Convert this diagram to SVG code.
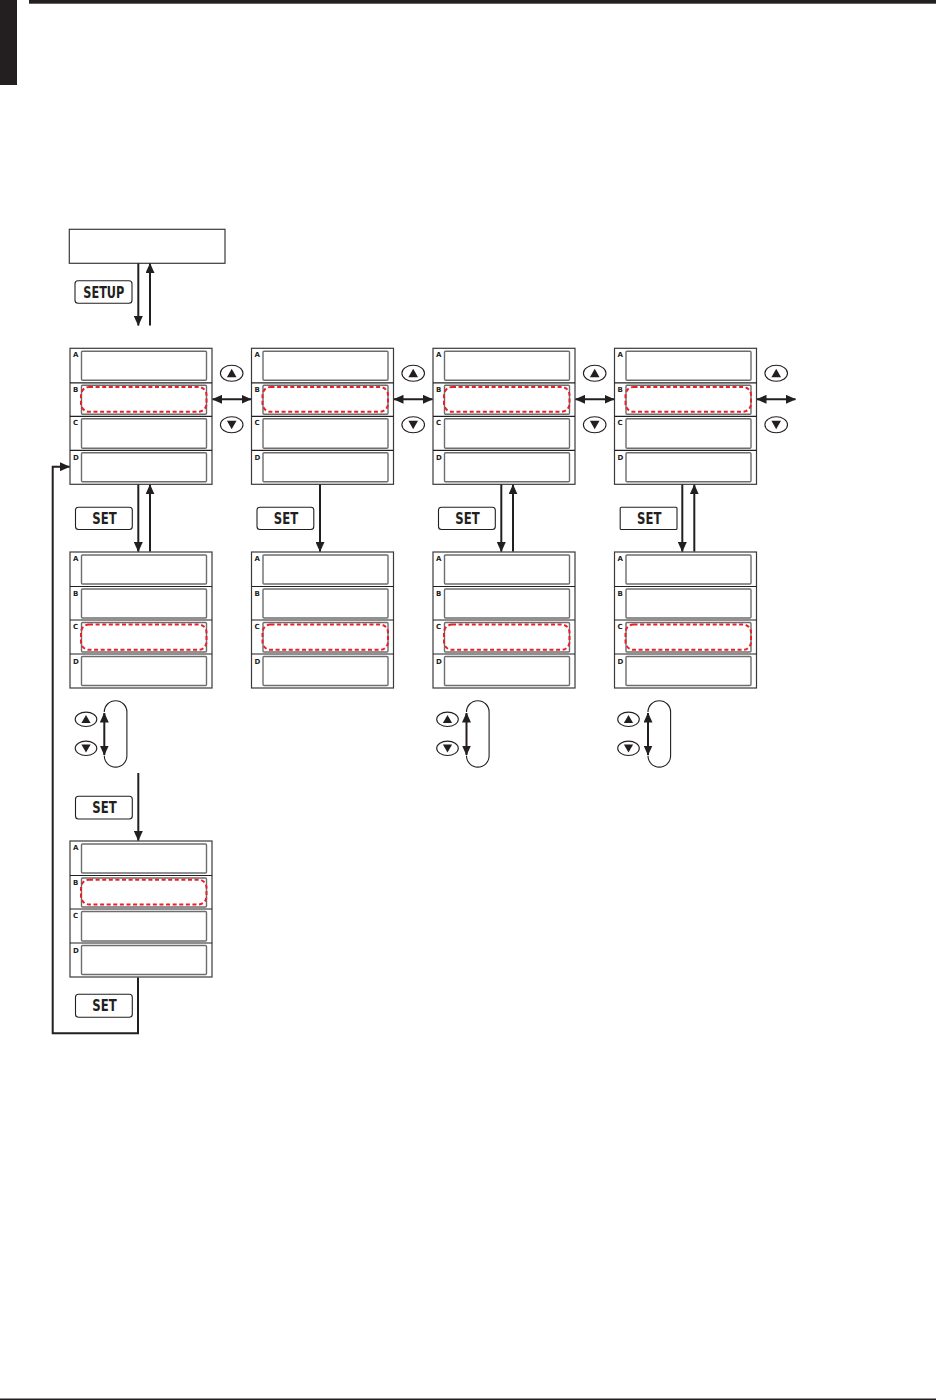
<svg xmlns="http://www.w3.org/2000/svg" xmlns:xlink="http://www.w3.org/1999/xlink" width="936" height="1400" viewBox="0 0 936 1400">
<style>
.frame{fill:#fff;stroke:#3a3a3a;stroke-width:1.2}
.div{stroke:#231f20;stroke-width:1.2}
.inner{fill:#fff;stroke:#6d6d6d;stroke-width:1.4}
.lbl{font-family:"DejaVu Sans",sans-serif;font-weight:bold;font-size:7px;fill:#231f20}
.hl{fill:none;stroke:#e8202a;stroke-width:2;stroke-dasharray:4 2.6}
.ln{fill:none;stroke:#231f20;stroke-width:2}
.loop{fill:none;stroke:#231f20;stroke-width:1.1}
.btn{fill:#fff;stroke:#231f20;stroke-width:1.1}
.btxt{font-family:"DejaVu Sans Condensed","DejaVu Sans",sans-serif;font-weight:bold;font-size:15px;fill:#231f20}
.oval{fill:#fff;stroke:#231f20;stroke-width:1.1}
.tri{fill:#231f20}
</style>
<defs>
<marker id="ah" viewBox="0 0 10 9" refX="9.5" refY="4.5" markerWidth="10" markerHeight="9" markerUnits="userSpaceOnUse" orient="auto-start-reverse">
<path d="M0,0 L10,4.5 L0,9 z" fill="#231f20"/>
</marker>
<g id="panel">
<rect class="frame" x="0" y="0" width="142" height="136"/>
<line class="div" x1="0" y1="34.5" x2="142" y2="34.5"/>
<line class="div" x1="0" y1="68" x2="142" y2="68"/>
<line class="div" x1="0" y1="102" x2="142" y2="102"/>
<rect class="inner" x="11.5" y="3" width="125" height="29" rx="1"/>
<rect class="inner" x="11.5" y="37" width="125" height="29" rx="1"/>
<rect class="inner" x="11.5" y="70.5" width="125" height="29.5" rx="1"/>
<rect class="inner" x="11.5" y="104.5" width="125" height="29" rx="1"/>
<text class="lbl" x="3" y="8.8">A</text>
<text class="lbl" x="3" y="43.5">B</text>
<text class="lbl" x="3" y="77">C</text>
<text class="lbl" x="3" y="111.5">D</text>
</g>
<g id="updown">
<ellipse class="oval" cx="0" cy="0" rx="11.3" ry="8"/>
<path class="tri" d="M-4.8,4 L4.8,4 L0,-4.5 z"/>
<ellipse class="oval" cx="0" cy="51.5" rx="11.3" ry="8"/>
<path class="tri" d="M-4.8,47.5 L4.8,47.5 L0,56 z"/>
</g>
<g id="updown2">
<ellipse class="oval" cx="0" cy="0" rx="10.8" ry="7.2"/>
<path class="tri" d="M-4.6,3.8 L4.6,3.8 L0,-4.2 z"/>
<ellipse class="oval" cx="0" cy="29" rx="10.8" ry="7.2"/>
<path class="tri" d="M-4.6,25.2 L4.6,25.2 L0,33.2 z"/>
</g>
<g id="loop">
<path class="loop" d="M0,12 A11.3,11.3 0 0 1 22.6,12 L22.6,55.8 A11.3,11.3 0 0 1 0,55.8"/>
<line class="ln" x1="0" y1="13" x2="0" y2="55" marker-start="url(#ah)" marker-end="url(#ah)"/>
</g>
</defs>

<g id="page-marks">
<rect x="29" y="0" width="907" height="3.7" fill="#231f20"/>
<rect x="0" y="0" width="17" height="85" fill="#231f20"/>
<rect x="0" y="1398.5" width="936" height="1.5" fill="#231f20"/>
</g>

<g id="top-box">
<rect class="frame" x="69.3" y="229.3" width="155.7" height="34"/>
</g>

<g id="btn-setup">
<rect class="btn" x="75" y="280.7" width="57" height="22.6" rx="3"/>
<text class="btxt" x="83.3" y="297.5" textLength="41" lengthAdjust="spacingAndGlyphs">SETUP</text>
</g>

<g id="panel-1-1"><use xlink:href="#panel" href="#panel" x="70" y="348.3"/><rect class="hl" x="81" y="387" width="125.5" height="24.7" rx="8"/></g>
<g id="panel-1-2"><use xlink:href="#panel" href="#panel" x="251.5" y="348.3"/><rect class="hl" x="262.5" y="387" width="125.5" height="24.7" rx="8"/></g>
<g id="panel-1-3"><use xlink:href="#panel" href="#panel" x="433" y="348.3"/><rect class="hl" x="444" y="387" width="125.5" height="24.7" rx="8"/></g>
<g id="panel-1-4"><use xlink:href="#panel" href="#panel" x="614.5" y="348.3"/><rect class="hl" x="625.5" y="387" width="125.5" height="24.7" rx="8"/></g>

<g id="panel-2-1"><use xlink:href="#panel" href="#panel" x="70" y="552"/><rect class="hl" x="81" y="624.5" width="125.5" height="25.3" rx="8"/></g>
<g id="panel-2-2"><use xlink:href="#panel" href="#panel" x="251.5" y="552"/><rect class="hl" x="262.5" y="624.5" width="125.5" height="25.3" rx="8"/></g>
<g id="panel-2-3"><use xlink:href="#panel" href="#panel" x="433" y="552"/><rect class="hl" x="444" y="624.5" width="125.5" height="25.3" rx="8"/></g>
<g id="panel-2-4"><use xlink:href="#panel" href="#panel" x="614.5" y="552"/><rect class="hl" x="625.5" y="624.5" width="125.5" height="25.3" rx="8"/></g>

<g id="panel-3-1"><use xlink:href="#panel" href="#panel" x="70" y="841"/><rect class="hl" x="81" y="879.7" width="125.5" height="24.7" rx="8"/></g>

<g id="keys-row1">
<use xlink:href="#updown" href="#updown" x="231.7" y="373.3"/>
<use xlink:href="#updown" href="#updown" x="413.2" y="373.3"/>
<use xlink:href="#updown" href="#updown" x="594.7" y="373.3"/>
<use xlink:href="#updown" href="#updown" x="776.2" y="373.3"/>
</g>

<g id="btn-set-1"><rect class="btn" x="75.5" y="507.2" width="56.8" height="22.3" rx="3"/><text class="btxt" x="92.3" y="524" textLength="24.4" lengthAdjust="spacingAndGlyphs">SET</text></g>
<g id="btn-set-2"><rect class="btn" x="257" y="507.2" width="56.8" height="22.3" rx="3"/><text class="btxt" x="273.8" y="524" textLength="24.4" lengthAdjust="spacingAndGlyphs">SET</text></g>
<g id="btn-set-3"><rect class="btn" x="438.5" y="507.2" width="56.8" height="22.3" rx="3"/><text class="btxt" x="455.3" y="524" textLength="24.4" lengthAdjust="spacingAndGlyphs">SET</text></g>
<g id="btn-set-4"><rect class="btn" x="620.2" y="507.2" width="56.8" height="22.3" rx="1"/><text class="btxt" x="637" y="524" textLength="24.4" lengthAdjust="spacingAndGlyphs">SET</text></g>
<g id="btn-set-5"><rect class="btn" x="75.5" y="796.2" width="56.8" height="22.8" rx="3"/><text class="btxt" x="92.3" y="813" textLength="24.4" lengthAdjust="spacingAndGlyphs">SET</text></g>
<g id="btn-set-6"><rect class="btn" x="75.5" y="994.2" width="56.8" height="23" rx="3"/><text class="btxt" x="92.3" y="1011" textLength="24.4" lengthAdjust="spacingAndGlyphs">SET</text></g>

<g id="keys-row2">
<use xlink:href="#updown2" href="#updown2" x="86" y="719.3"/>
<use xlink:href="#updown2" href="#updown2" x="447.5" y="719.3"/>
<use xlink:href="#updown2" href="#updown2" x="628.5" y="719.3"/>
</g>

<g id="connectors">
<line class="ln" x1="138.3" y1="263.3" x2="138.3" y2="325.5" marker-end="url(#ah)"/>
<line class="ln" x1="150" y1="325.5" x2="150" y2="263.5" marker-end="url(#ah)"/>

<line class="ln" x1="212.5" y1="399.3" x2="251" y2="399.3" marker-start="url(#ah)" marker-end="url(#ah)"/>
<line class="ln" x1="394" y1="399.3" x2="432.5" y2="399.3" marker-start="url(#ah)" marker-end="url(#ah)"/>
<line class="ln" x1="575.5" y1="399.3" x2="614" y2="399.3" marker-start="url(#ah)" marker-end="url(#ah)"/>
<line class="ln" x1="757" y1="399.3" x2="795.5" y2="399.3" marker-start="url(#ah)" marker-end="url(#ah)"/>

<line class="ln" x1="138.3" y1="484.5" x2="138.3" y2="551.5" marker-end="url(#ah)"/>
<line class="ln" x1="150" y1="551.5" x2="150" y2="484.8" marker-end="url(#ah)"/>
<line class="ln" x1="320" y1="484.5" x2="320" y2="551.5" marker-end="url(#ah)"/>
<line class="ln" x1="501.3" y1="484.5" x2="501.3" y2="551.5" marker-end="url(#ah)"/>
<line class="ln" x1="513" y1="551.5" x2="513" y2="484.8" marker-end="url(#ah)"/>
<line class="ln" x1="682.3" y1="484.5" x2="682.3" y2="551.5" marker-end="url(#ah)"/>
<line class="ln" x1="694.3" y1="551.5" x2="694.3" y2="484.8" marker-end="url(#ah)"/>

<use xlink:href="#loop" href="#loop" x="104.3" y="700"/>
<use xlink:href="#loop" href="#loop" x="466.5" y="700"/>
<use xlink:href="#loop" href="#loop" x="648" y="700"/>

<line class="ln" x1="138.3" y1="773" x2="138.3" y2="840.5" marker-end="url(#ah)"/>

<polyline class="ln" points="138,977.5 138,1033.3 52.7,1033.3 52.7,466.7 69.5,466.7" marker-end="url(#ah)"/>
</g>
</svg>
